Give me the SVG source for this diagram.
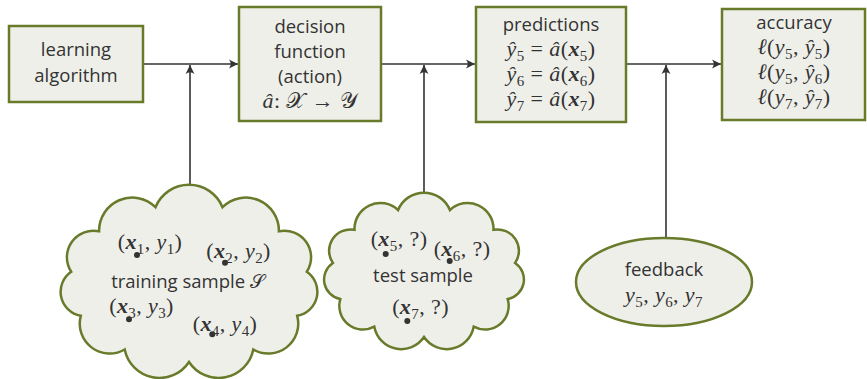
<svg xmlns="http://www.w3.org/2000/svg" width="867" height="379" viewBox="0 0 867 379">
  <style>
    .box { fill: #efefea; stroke: #687b2b; stroke-width: 2.5; }
    .wire { fill: none; stroke: #333333; stroke-width: 1.6; marker-end: url(#ah); }
    .t { font-family: "Open Sans", "DejaVu Sans", sans-serif; font-size: 18.5px; fill: #333333; text-anchor: middle; }
    .m { font-family: "Liberation Serif", "DejaVu Serif", serif; font-size: 22px; fill: #333333; text-anchor: middle; letter-spacing: 0.4px; }
    .i { font-style: italic; }
    .bi { font-style: italic; font-weight: bold; }
    .s { font-size: 15px; }
    .cal { font-family: "DejaVu Sans", "Noto Sans", serif; font-style: normal; }
    .dot { fill: #333333; }
  </style>
  <defs>
    <marker id="ah" viewBox="-10 -6 12 12" refX="0" refY="0" markerWidth="12" markerHeight="12" orient="auto" markerUnits="userSpaceOnUse">
      <path d="M0,0 L-9,-4.5 Q-5.5,0 -9,4.5 Z" fill="#333333"/>
    </marker>
  </defs>

  <!-- connectors (drawn first so the shapes cover the line ends) -->
  <g id="connectors">
    <path class="wire" d="M143,64 H238"/>
    <path class="wire" d="M381,64 H475"/>
    <path class="wire" d="M626,64 H721"/>
    <path class="wire" d="M190,190 V65"/>
    <path class="wire" d="M424,205 V65"/>
    <path class="wire" d="M666,240 V65"/>
  </g>

  <g id="learning-algorithm">
    <rect class="box" x="9" y="26" width="134" height="76"/>
    <text class="t" x="76" y="56">learning</text>
    <text class="t" x="76" y="82">algorithm</text>
  </g>

  <g id="decision-function">
    <rect class="box" x="239" y="7" width="142" height="114"/>
    <text class="t" x="310" y="33">decision</text>
    <text class="t" x="310" y="58">function</text>
    <text class="t" x="310" y="83">(action)</text>
    <text class="m" x="310" y="108"><tspan class="i">â</tspan>: <tspan class="cal i">𝒳</tspan> → <tspan class="cal i">𝒴</tspan></text>
  </g>

  <g id="predictions">
    <rect class="box" x="476" y="7" width="150" height="115"/>
    <text class="t" x="551" y="31">predictions</text>
    <text class="m" x="551" y="56"><tspan class="i">ŷ</tspan><tspan class="s" dy="5">5</tspan><tspan dy="-5"> = </tspan><tspan class="i">â</tspan>(<tspan class="bi">x</tspan><tspan class="s" dy="5">5</tspan><tspan dy="-5">)</tspan></text>
    <text class="m" x="551" y="81"><tspan class="i">ŷ</tspan><tspan class="s" dy="5">6</tspan><tspan dy="-5"> = </tspan><tspan class="i">â</tspan>(<tspan class="bi">x</tspan><tspan class="s" dy="5">6</tspan><tspan dy="-5">)</tspan></text>
    <text class="m" x="551" y="106"><tspan class="i">ŷ</tspan><tspan class="s" dy="5">7</tspan><tspan dy="-5"> = </tspan><tspan class="i">â</tspan>(<tspan class="bi">x</tspan><tspan class="s" dy="5">7</tspan><tspan dy="-5">)</tspan></text>
  </g>

  <g id="accuracy">
    <rect class="box" x="722" y="9" width="143" height="111"/>
    <text class="t" x="794" y="29">accuracy</text>
    <text class="m" x="794" y="54"><tspan class="i">ℓ</tspan>(<tspan class="i">y</tspan><tspan class="s" dy="5">5</tspan><tspan dy="-5">, </tspan><tspan class="i">ŷ</tspan><tspan class="s" dy="5">5</tspan><tspan dy="-5">)</tspan></text>
    <text class="m" x="794" y="79"><tspan class="i">ℓ</tspan>(<tspan class="i">y</tspan><tspan class="s" dy="5">5</tspan><tspan dy="-5">, </tspan><tspan class="i">ŷ</tspan><tspan class="s" dy="5">6</tspan><tspan dy="-5">)</tspan></text>
    <text class="m" x="794" y="104"><tspan class="i">ℓ</tspan>(<tspan class="i">y</tspan><tspan class="s" dy="5">7</tspan><tspan dy="-5">, </tspan><tspan class="i">ŷ</tspan><tspan class="s" dy="5">7</tspan><tspan dy="-5">)</tspan></text>
  </g>

  <g id="training-sample">
    <path class="box" d="M155.5,207.2 A36.2,36.2 0 0 1 222.5,207.2 A33.1,33.1 0 0 1 278.9,231.3 A26.6,26.6 0 0 1 306.8,271.8 A24.3,24.3 0 0 1 297.2,315.8 A29.9,29.9 0 0 1 253.3,349.5 A35.4,35.4 0 0 1 189,362 A35.4,35.4 0 0 1 124.7,349.5 A29.9,29.9 0 0 1 80.8,315.8 A24.3,24.3 0 0 1 71.2,271.8 A26.6,26.6 0 0 1 99.1,231.3 A33.1,33.1 0 0 1 155.5,207.2 Z"/>
    <text class="m" x="150" y="249">(<tspan class="bi">x</tspan><tspan class="s" dy="5">1</tspan><tspan dy="-5">, </tspan><tspan class="i">y</tspan><tspan class="s" dy="5">1</tspan><tspan dy="-5">)</tspan></text>
    <circle class="dot" cx="137" cy="255" r="3"/>
    <text class="m" x="238.5" y="258">(<tspan class="bi">x</tspan><tspan class="s" dy="5">2</tspan><tspan dy="-5">, </tspan><tspan class="i">y</tspan><tspan class="s" dy="5">2</tspan><tspan dy="-5">)</tspan></text>
    <circle class="dot" cx="225" cy="262.7" r="3"/>
    <text class="t" x="188" y="288">training sample <tspan class="cal i">𝒮</tspan></text>
    <text class="m" x="141.5" y="313">(<tspan class="bi">x</tspan><tspan class="s" dy="5">3</tspan><tspan dy="-5">, </tspan><tspan class="i">y</tspan><tspan class="s" dy="5">3</tspan><tspan dy="-5">)</tspan></text>
    <circle class="dot" cx="129" cy="319.3" r="3"/>
    <text class="m" x="225" y="331">(<tspan class="bi">x</tspan><tspan class="s" dy="5">4</tspan><tspan dy="-5">, </tspan><tspan class="i">y</tspan><tspan class="s" dy="5">4</tspan><tspan dy="-5">)</tspan></text>
    <circle class="dot" cx="212.3" cy="334.3" r="3"/>
  </g>

  <g id="test-sample">
    <path class="box" d="M398.1,210 A28,28 0 0 1 449.9,210 A25.9,25.9 0 0 1 493.5,229.8 A21.4,21.4 0 0 1 515.1,263 A19.9,19.9 0 0 1 507.7,299.1 A23.7,23.7 0 0 1 473.7,326.7 A27.4,27.4 0 0 1 424,337 A27.4,27.4 0 0 1 374.3,326.7 A23.7,23.7 0 0 1 340.3,299.1 A19.9,19.9 0 0 1 332.9,263 A21.4,21.4 0 0 1 354.5,229.8 A25.9,25.9 0 0 1 398.1,210 Z"/>
    <text class="m" x="399" y="246">(<tspan class="bi">x</tspan><tspan class="s" dy="5">5</tspan><tspan dy="-5">, ?)</tspan></text>
    <circle class="dot" cx="385.7" cy="254" r="3"/>
    <text class="m" x="462" y="256">(<tspan class="bi">x</tspan><tspan class="s" dy="5">6</tspan><tspan dy="-5">, ?)</tspan></text>
    <circle class="dot" cx="449.7" cy="261" r="3"/>
    <text class="t" x="423" y="282">test sample</text>
    <text class="m" x="420.5" y="314">(<tspan class="bi">x</tspan><tspan class="s" dy="5">7</tspan><tspan dy="-5">, ?)</tspan></text>
    <circle class="dot" cx="407.3" cy="321" r="3"/>
  </g>

  <g id="feedback">
    <ellipse class="box" cx="664" cy="282" rx="88" ry="44"/>
    <text class="t" x="664" y="276">feedback</text>
    <text class="m" x="664" y="302"><tspan class="i">y</tspan><tspan class="s" dy="5">5</tspan><tspan dy="-5">, </tspan><tspan class="i">y</tspan><tspan class="s" dy="5">6</tspan><tspan dy="-5">, </tspan><tspan class="i">y</tspan><tspan class="s" dy="5">7</tspan></text>
  </g>
</svg>
